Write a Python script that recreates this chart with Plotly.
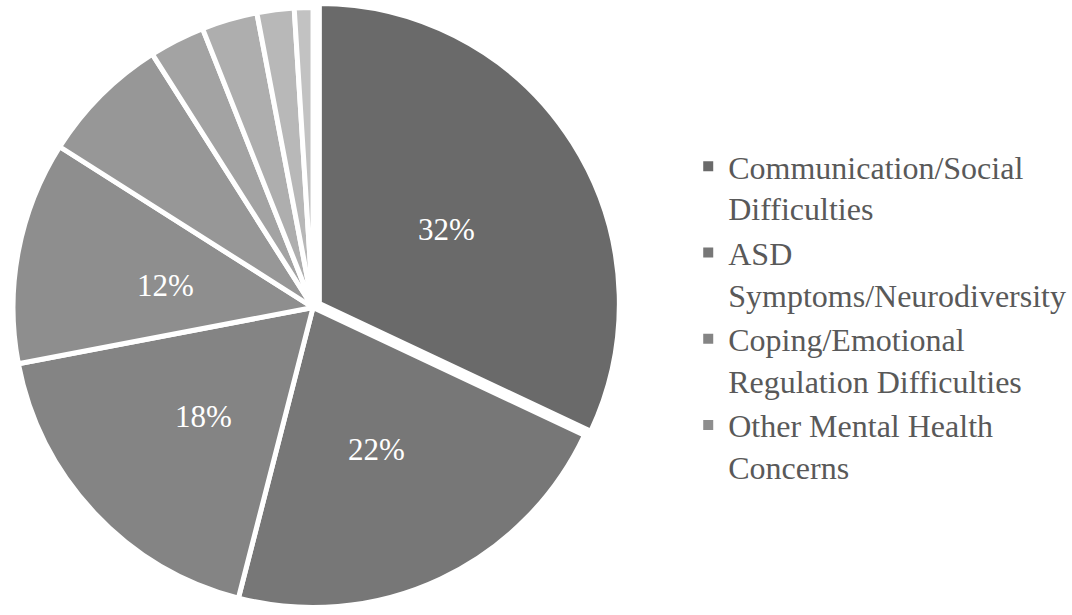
import math
import plotly.graph_objects as go

# Share of responses by concern category (percent)
categories = [
    "Communication/Social Difficulties",
    "ASD Symptoms/Neurodiversity",
    "Coping/Emotional Regulation Difficulties",
    "Other Mental Health Concerns",
    "Category 5",
    "Category 6",
    "Category 7",
    "Category 8",
    "Category 9",
]
values = [32, 22, 18, 12, 7, 3, 3, 2, 1]

# Legend text (wrapped the way it is drawn)
legend_names = [
    "Communication/Social<br>Difficulties",
    "ASD<br>Symptoms/Neurodiversity",
    "Coping/Emotional<br>Regulation Difficulties",
    "Other Mental Health<br>Concerns",
]

slice_colors = ["#6a6a6a", "#777777", "#848484", "#8e8e8e", "#979797",
                "#a3a3a3", "#aeaeae", "#b8b8b8", "#c2c2c2"]
pulls = [0.025] + [0] * 8

W, H = 1072, 615
dom_x = [0, 0.584]
dom_y = [0, 1]

fig = go.Figure()
fig.add_trace(go.Pie(
    labels=categories,
    values=values,
    textinfo="none",
    marker=dict(colors=slice_colors, line=dict(color="#ffffff", width=5)),
    sort=False,
    direction="clockwise",
    rotation=0,
    pull=pulls,
    showlegend=False,
    hoverinfo="label+percent",
    domain=dict(x=dom_x, y=dom_y),
))

for name, color in zip(legend_names, slice_colors[:4]):
    fig.add_trace(go.Scatter(
        x=[None], y=[None], mode="markers", name=name,
        marker=dict(symbol="square", size=10, color=color),
    ))

# Percentage labels for the larger slices, placed halfway out along
# each slice's middle angle (same geometry plotly uses for the pie).
cx = (dom_x[0] + dom_x[1]) / 2 * W
cy = (1 - (dom_y[0] + dom_y[1]) / 2) * H
r = min((dom_x[1] - dom_x[0]) * W, (dom_y[1] - dom_y[0]) * H) / 2 / (1 + max(pulls))
total = sum(values)
start = 0.0
for v, p in zip(values, pulls):
    mid = math.radians((start + v / 2) / total * 360)
    start += v
    if v < 10:
        continue
    dist = r * (0.5 + p)
    px = cx + dist * math.sin(mid)
    py = cy - dist * math.cos(mid) + 6
    fig.add_annotation(
        x=px / W, y=1 - py / H, xref="paper", yref="paper",
        xanchor="center", yanchor="middle",
        text=f"{v}%", showarrow=False,
        font=dict(family="Liberation Serif", size=31, color="#ffffff"),
    )

fig.update_layout(
    width=W,
    height=H,
    margin=dict(l=0, r=0, t=0, b=0),
    paper_bgcolor="#ffffff",
    plot_bgcolor="#ffffff",
    xaxis=dict(visible=False),
    yaxis=dict(visible=False),
    legend=dict(
        x=0.642, y=0.774, xanchor="left", yanchor="top",
        font=dict(family="Liberation Serif", size=32, color="#595959"),
        valign="top",
        itemwidth=30,
        tracegroupgap=0,
        bgcolor="rgba(0,0,0,0)",
    ),
)

fig.write_html("out.html")
